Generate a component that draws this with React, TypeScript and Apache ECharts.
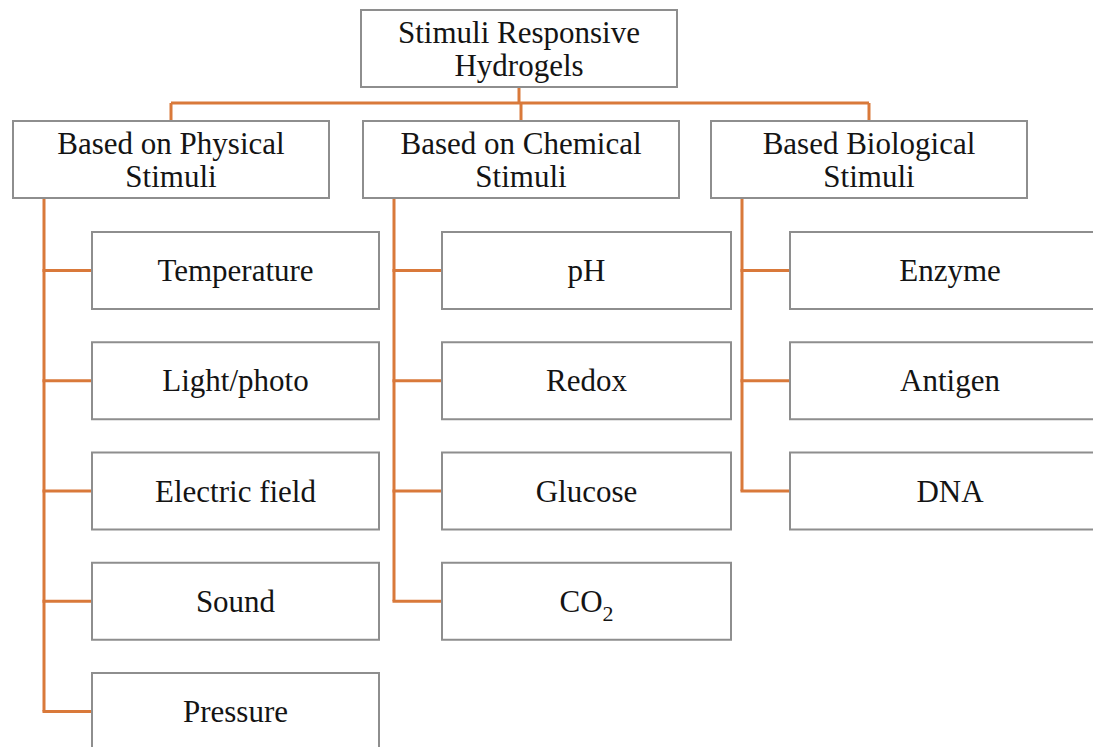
import React, { useEffect, useRef } from "react";
import * as echarts from "echarts";

const rootLabel = "Stimuli Responsive\nHydrogels";
const groupLabels = [
  "Based on Physical\nStimuli",
  "Based on Chemical\nStimuli",
  "Based Biological\nStimuli",
];
const physicalItems = ["Temperature", "Light/photo", "Electric field", "Sound", "Pressure"];
const chemicalItems = ["pH", "Redox", "Glucose", "CO{sub|2}"];
const biologicalItems = ["Enzyme", "Antigen", "DNA"];
const groupItems = [physicalItems, chemicalItems, biologicalItems];

const W = 1093;
const H = 747;
const ORANGE = "#D9793A";
const BORDER = "#8E8E8E";
const FONT = "'Liberation Serif', 'Times New Roman', serif";
const FS = 31;
const SUB_FS = 22;
const TEXT = "#141414";

function box(x: number, y: number, w: number, h: number, label: string) {
  const children: any[] = [
    {
      type: "rect",
      shape: { x, y, width: w, height: h },
      style: { fill: "#ffffff", stroke: BORDER, lineWidth: 2 },
      z: 2,
    },
  ];
  const m = label.match(/^(.*)\{sub\|(.*)\}$/);
  const cx = x + w / 2;
  const cy = y + h / 2;
  if (m) {
    const main = m[1];
    const sub = m[2];
    const mainRect = echarts.format.getTextRect
      ? null
      : null;
    const mainW = 1.389 * FS; // approx advance of main text
    const subW = 0.5 * SUB_FS * sub.length;
    const total = mainW + subW;
    const split = cx - total / 2 + mainW;
    children.push({
      type: "text",
      x: split,
      y: cy,
      z: 3,
      style: {
        text: main,
        align: "right",
        verticalAlign: "middle",
        fontFamily: FONT,
        fontSize: FS,
        fill: TEXT,
      },
    });
    children.push({
      type: "text",
      x: split,
      y: cy + 12.5,
      z: 3,
      style: {
        text: sub,
        align: "left",
        verticalAlign: "middle",
        fontFamily: FONT,
        fontSize: SUB_FS,
        fill: TEXT,
      },
    });
    void mainRect;
  } else {
    children.push({
      type: "text",
      x: cx,
      y: cy,
      z: 3,
      style: {
        text: label,
        align: "center",
        verticalAlign: "middle",
        fontFamily: FONT,
        fontSize: FS,
        lineHeight: 33,
        fill: TEXT,
      },
    });
  }
  return { type: "group", children };
}

function line(x1: number, y1: number, x2: number, y2: number) {
  return {
    type: "line",
    shape: { x1, y1, x2, y2 },
    style: { stroke: ORANGE, lineWidth: 3 },
    z: 1,
  };
}

export default function App() {
  const ref = useRef<HTMLDivElement>(null);
  useEffect(() => {
    if (!ref.current) return;
    const chart = echarts.init(ref.current, undefined, { renderer: "svg" });

    const boxW = 316;
    const boxH = 77;
    const rootX = 361;
    const rootY = 10;
    const groupY = 121;
    const groupLefts = [13, 363, 711];
    const busY = 103;
    const trunkOffset = 31;
    const childOffset = 48;
    const childTop0 = 232;
    const rowStep = 110.25;
    const childWs = [287, 289, 320];

    const els: any[] = [];
    els.push(box(rootX, rootY, boxW, boxH, rootLabel));
    const rootCx = rootX + boxW / 2;
    els.push(line(rootCx, rootY + boxH, rootCx, busY));
    const centers = groupLefts.map((l) => l + boxW / 2);
    els.push(line(centers[0], busY, centers[centers.length - 1], busY));

    groupLabels.forEach((g, gi) => {
      const left = groupLefts[gi];
      const cx = centers[gi];
      els.push(line(cx, busY, cx, groupY));
      els.push(box(left, groupY, boxW, boxH, g));
      const trunkX = left + trunkOffset;
      const items = groupItems[gi];
      const lastCy = childTop0 + rowStep * (items.length - 1) + boxH / 2;
      els.push(line(trunkX, groupY + boxH, trunkX, lastCy));
      items.forEach((it, i) => {
        const top = childTop0 + rowStep * i;
        const cy = top + boxH / 2;
        const cl = trunkX + childOffset;
        els.push(line(trunkX - 1.5, cy, cl, cy));
        els.push(box(cl, top, childWs[gi], boxH, it));
      });
    });

    chart.setOption({
      animation: false,
      backgroundColor: "#ffffff",
      graphic: { elements: els },
    });
    return () => chart.dispose();
  }, []);

  return (
    <div
      ref={ref}
      style={{ position: "fixed", left: 0, top: 0, width: W, height: H, background: "#fff" }}
    />
  );
}
